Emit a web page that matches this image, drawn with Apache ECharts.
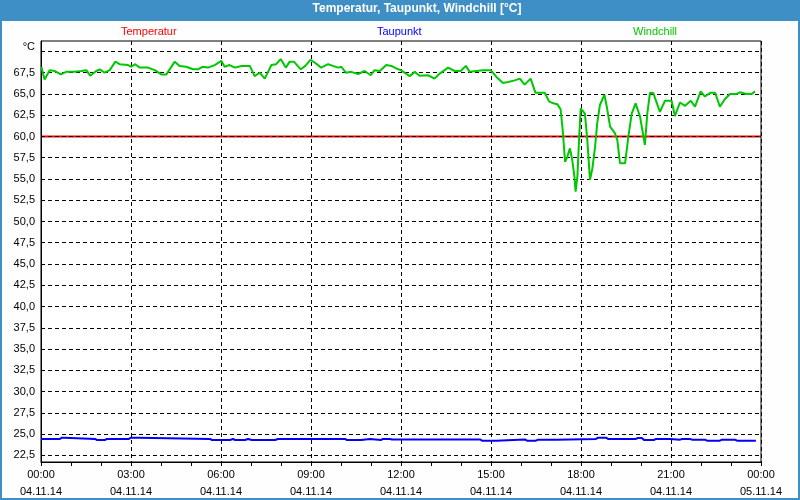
<!DOCTYPE html>
<html>
<head>
<meta charset="utf-8">
<script src="https://cdn.jsdelivr.net/npm/echarts@6/dist/echarts.min.js"></script>
<style>
  html, body { margin: 0; padding: 0; background: #fdfefd; }
  #chart { width: 800px; height: 500px; }
</style>
</head>
<body>
<div id="chart"></div>
<script>
// Zeit in Stunden ab 04.11.14 00:00
var tempTimes = [0, 3, 6, 9, 12, 15, 18, 21, 24];
var tempValues = [60.0, 60.0, 60.0, 60.0, 60.0, 60.0, 60.0, 60.0, 60.0];

var dewTimes = [0, 0.63, 0.7, 0.77, 0.83, 1.8, 1.87, 2.13, 2.2, 2.93, 3.0, 3.27, 3.33, 5.63, 5.7, 6.3,
  6.4, 6.47, 6.8, 6.9, 7.03, 7.8, 7.9, 10.13, 10.2, 10.67, 10.73, 10.97, 11.03, 11.33, 11.4, 11.63,
  11.7, 14.63, 14.7, 15.17, 15.23, 16.13, 16.2, 16.5, 16.57, 17.17, 17.23, 18.5, 18.57, 18.83, 18.9,
  19.83, 19.9, 20.03, 20.1, 20.43, 20.5, 20.97, 21.03, 21.3, 21.37, 21.63, 21.7, 22.13, 22.2, 22.63,
  22.7, 23.13, 23.2, 23.83];
var dewValues = [24.42, 24.42, 24.57, 24.57, 24.42, 24.42, 24.3, 24.3, 24.42, 24.42, 24.57, 24.57, 24.42, 24.42, 24.3, 24.3,
  24.42, 24.3, 24.3, 24.42, 24.3, 24.3, 24.42, 24.42, 24.3, 24.3, 24.42, 24.42, 24.3, 24.3, 24.42, 24.42,
  24.36, 24.36, 24.22, 24.22, 24.36, 24.36, 24.22, 24.22, 24.34, 24.34, 24.42, 24.42, 24.57, 24.57, 24.42,
  24.42, 24.53, 24.53, 24.3, 24.3, 24.42, 24.42, 24.34, 24.34, 24.42, 24.42, 24.34, 24.34, 24.22, 24.22,
  24.34, 24.34, 24.22, 24.22];

var windTimes = [0.01, 0.12, 0.29, 0.46, 0.66, 0.84, 1.12, 1.34, 1.51, 1.64, 1.84, 1.96, 2.12, 2.29, 2.48, 2.62,
  2.9, 3.01, 3.14, 3.29, 3.57, 3.79, 4.01, 4.18, 4.46, 4.62, 4.84, 5.07, 5.23, 5.38, 5.57, 5.79,
  6.01, 6.12, 6.29, 6.46, 6.68, 6.96, 7.12, 7.29, 7.46, 7.68, 7.84, 7.99, 8.16, 8.29, 8.43, 8.66,
  8.81, 8.98, 9.12, 9.34, 9.57, 9.73, 9.9, 10.01, 10.16, 10.34, 10.57, 10.79, 10.99, 11.12, 11.29, 11.51,
  11.68, 11.84, 11.99, 12.12, 12.29, 12.46, 12.62, 12.9, 13.12, 13.29, 13.57, 13.79, 13.99, 14.16, 14.29, 14.51,
  14.73, 14.99, 15.18, 15.4, 15.57, 15.79, 15.96, 16.12, 16.32, 16.48, 16.79, 16.94, 17.08, 17.21, 17.32, 17.39,
  17.47, 17.54, 17.63, 17.71, 17.78, 17.82, 17.88, 17.94, 17.99, 18.13, 18.21, 18.3, 18.38, 18.47, 18.54, 18.63,
  18.78, 18.86, 18.97, 19.13, 19.21, 19.3, 19.47, 19.58, 19.69, 19.82, 19.97, 20.08, 20.13, 20.21, 20.3, 20.41,
  20.63, 20.8, 21.02, 21.13, 21.3, 21.47, 21.66, 21.8, 21.99, 22.13, 22.32, 22.47, 22.63, 22.8, 22.97, 23.19,
  23.3, 23.52, 23.69, 23.8];
var windValues = [68.2, 66.7, 67.8, 67.7, 67.3, 67.6, 67.6, 67.7, 67.8, 67.15, 67.7, 67.9, 67.5, 67.8, 68.8, 68.5,
  68.4, 68.2, 68.5, 68.1, 68.1, 67.8, 67.3, 67.3, 68.8, 68.3, 68.2, 67.9, 67.9, 68.2, 68.1, 68.4,
  68.9, 68.2, 68.4, 68.1, 68.3, 68.3, 67.1, 67.5, 66.8, 68.4, 68.5, 69.1, 68.1, 68.8, 68.8, 67.9,
  68.3, 69.0, 68.7, 68.1, 68.5, 68.3, 68.1, 68.2, 67.5, 67.6, 67.35, 67.7, 67.2, 67.8, 67.7, 68.4,
  68.3, 68.0, 67.8, 67.5, 67.1, 67.6, 67.15, 67.2, 66.8, 67.4, 68.1, 67.7, 67.7, 68.3, 67.6, 67.7,
  67.8, 67.8, 67.0, 66.3, 66.4, 66.6, 66.8, 66.1, 66.8, 65.15, 65.15, 64.1, 63.9, 63.8, 63.2, 60.76,
  57.0, 57.6, 58.6, 57.2, 55.3, 53.5, 55.3, 60.0, 63.3, 62.7, 59.6, 54.9, 56.25, 58.8, 61.55, 63.7,
  64.9, 63.5, 61.15, 60.4, 59.6, 56.85, 56.85, 60.0, 62.7, 63.9, 62.3, 60.0, 59.0, 62.7, 65.15, 65.1,
  62.9, 64.2, 64.2, 62.4, 64.0, 63.6, 64.2, 63.5, 65.3, 64.7, 65.15, 65.15, 63.5, 64.4, 65.0, 65.0,
  65.2, 65.0, 65.0, 65.3];

var xTickLabels = ['00:00\n04.11.14', '03:00\n04.11.14', '06:00\n04.11.14', '09:00\n04.11.14', '12:00\n04.11.14',
  '15:00\n04.11.14', '18:00\n04.11.14', '21:00\n04.11.14', '00:00\n05.11.14'];
var yGridValues = [22.5, 25, 27.5, 30, 32.5, 35, 37.5, 40, 42.5, 45, 47.5, 50, 52.5, 55, 57.5, 60, 62.5, 65, 67.5, 70];
var yLabelValues = [22.5, 25, 27.5, 30, 32.5, 35, 37.5, 40, 42.5, 45, 47.5, 50, 52.5, 55, 57.5, 60, 62.5, 65, 67.5];

function pairs(t, v) {
    var out = [];
    for (var i = 0; i < t.length; i++) {
        out.push([t[i], v[i]]);
    }
    return out;
}

var chart = echarts.init(document.getElementById('chart'));
var font = 'Liberation Sans, Arial, sans-serif';

function legendFor(name, color, left) {
    return {
        data: [name],
        left: left,
        top: 25,
        padding: 0,
        itemWidth: 0,
        itemHeight: 0,
        selectedMode: false,
        textStyle: { color: color, fontSize: 11, fontFamily: font, lineHeight: 14 }
    };
}

var option = {
    backgroundColor: '#fdfefd',
    animation: false,
    graphic: [
        // Titelleiste, Rahmen, weisse Zeichenflaeche
        { type: 'rect', z: -5, shape: { x: 41, y: 41, width: 720, height: 421 }, style: { fill: '#ffffff' } },
        { type: 'rect', z: -1, shape: { x: 0, y: 0, width: 800, height: 21 }, style: { fill: '#3d8fc6' } },
        { type: 'rect', z: -1, shape: { x: 1, y: 1, width: 798, height: 498 }, style: { fill: 'none', stroke: '#3d8fc6', lineWidth: 2 } }
    ],
    title: {
        text: 'Temperatur, Taupunkt, Windchill [°C]',
        left: 417,
        textAlign: 'center',
        top: 3,
        padding: 0,
        textStyle: { color: '#fff', fontSize: 12, fontWeight: 'bold', fontFamily: font }
    },
    legend: [
        legendFor('Temperatur', '#ff0000', 115),
        legendFor('Taupunkt', '#0000ff', 371),
        legendFor('Windchill', '#00c800', 627)
    ],
    grid: {
        left: 41, right: 39, top: 41, bottom: 38,
        show: true,
        borderColor: '#000',
        borderWidth: 1
    },
    xAxis: {
        type: 'value',
        min: 0,
        max: 24,
        interval: 3,
        axisLine: { lineStyle: { color: '#000', width: 1 } },
        axisTick: { show: true, length: 4, lineStyle: { color: '#000' } },
        minorTick: { show: true, splitNumber: 3, length: 4, lineStyle: { color: '#000' } },
        splitLine: { show: true, lineStyle: { color: '#000', type: [4, 3], width: 1 } },
        axisLabel: {
            color: '#000', fontSize: 11, fontFamily: font, lineHeight: 17, margin: 4,
            formatter: function (v) { return xTickLabels[Math.round(v / 3)]; }
        }
    },
    yAxis: {
        type: 'value',
        min: 21.71,
        max: 71.23,
        name: '°C',
        nameLocation: 'end',
        nameGap: -6,
        nameTextStyle: { color: '#000', fontSize: 11, fontFamily: font, align: 'right', verticalAlign: 'middle', padding: [0, 6, 0, 0] },
        axisLine: { show: true, lineStyle: { color: '#000', width: 1 } },
        axisTick: { show: false, customValues: yGridValues },
        splitLine: { show: true, lineStyle: { color: '#000', type: [4, 3], width: 1 } },
        axisLabel: {
            customValues: yLabelValues,
            color: '#000', fontSize: 11, fontFamily: font, margin: 6,
            formatter: function (v) { return v.toFixed(1).replace('.', ','); }
        }
    },
    series: [
        {
            name: 'Temperatur', type: 'line', showSymbol: false, z: -2,
            lineStyle: { color: '#ff0000', width: 2 }, itemStyle: { color: '#ff0000' },
            data: pairs(tempTimes, tempValues)
        },
        {
            name: 'Taupunkt', type: 'line', showSymbol: false,
            lineStyle: { color: '#0000ff', width: 2 }, itemStyle: { color: '#0000ff' },
            data: pairs(dewTimes, dewValues)
        },
        {
            name: 'Windchill', type: 'line', showSymbol: false,
            lineStyle: { color: '#00c800', width: 2 }, itemStyle: { color: '#00c800' },
            data: pairs(windTimes, windValues)
        }
    ]
};
chart.setOption(option);
</script>
</body>
</html>
